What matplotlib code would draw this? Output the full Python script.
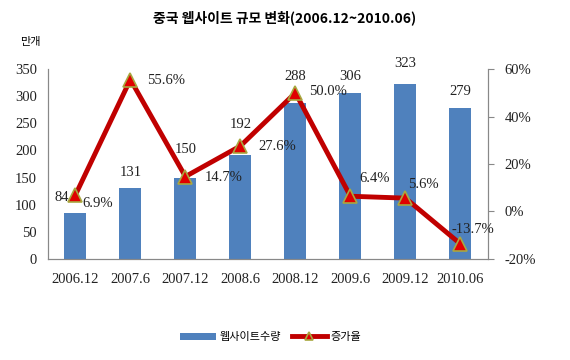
import matplotlib as mpl

mpl.use('agg')

import matplotlib.pyplot as plt

plt.rcParams['font.family'] = ['Noto Sans CJK KR', 'DejaVu Sans']

periods = ["2006.12", "2007.6", "2007.12", "2008.6",
           "2008.12", "2009.6", "2009.12", "2010.06"]
sites = [84, 131, 150, 192, 288, 306, 323, 279]
growth = [6.9, 55.6, 14.7, 27.6, 50.0, 6.4, 5.6, -13.7]

# label offsets in pixels
site_off = [(-14, 16), (0, 15), (0, 28), (0, 30), (0, 26), (0, 16), (0, 20), (0, 16)]
growth_off = [(7, -8), (17, -1), (19, -1), (18, -1), (14, 1), (9, 18), (3, 14), (-9, 14)]

serif = 'Liberation Serif'

fig = plt.figure(figsize=(5.7, 3.6), dpi=100)
ax = fig.add_axes([0.084, 0.281, 0.772, 0.527])
ax2 = ax.twinx()

x = range(len(periods))
ax.bar(x, sites, width=0.4, color='#4F81BD', label='웹사이트수량', zorder=2)
ax.set_xlim(-0.5, len(periods) - 0.5)
ax.set_ylim(0, 350)
ax.set_yticks(range(0, 351, 50))
ax.set_xticks(list(x))
ax.set_xticklabels(periods)

ax2.plot(x, growth, color='#C00000', lw=3.5, marker='^', markersize=10,
         markerfacecolor='#E00000', markeredgecolor='#A8A840', markeredgewidth=1.2,
         label='증가율', zorder=3)
ax2.set_ylim(-20, 60)
ax2.set_yticks(range(-20, 61, 20))
ax2.set_yticklabels(['%d%%' % v for v in range(-20, 61, 20)])

for i, v in enumerate(sites):
    ax.annotate(str(v), (i, v), xytext=site_off[i], textcoords='offset pixels',
                ha='center', va='center', fontsize=10.5, family=serif, color='#222222')
for i, v in enumerate(growth):
    ax2.annotate('%.1f%%' % v, (i, v), xytext=growth_off[i], textcoords='offset pixels',
                 ha='left', va='center', fontsize=10.5, family=serif, color='#222222')

for a in (ax, ax2):
    for s in a.spines.values():
        s.set_color('#888888')
    a.spines['top'].set_visible(False)
    for lab in a.get_xticklabels() + a.get_yticklabels():
        lab.set_family(serif)
        lab.set_fontsize(10.5)
        lab.set_color('#222222')

ax.tick_params(axis='y', length=0, pad=8)
ax.tick_params(axis='x', length=0, pad=10)
ax2.tick_params(axis='y', length=4, color='#888888', pad=8)

fig.text(0.5, 0.95, '중국 웹사이트 규모 변화(2006.12~2010.06)', ha='center', va='center',
         fontsize=10, fontweight='bold')
fig.text(0.053, 0.883, '만개', ha='center', va='center', fontsize=8)

h1, l1 = ax.get_legend_handles_labels()
h2, l2 = ax2.get_legend_handles_labels()
fig.legend(h1 + h2, l1 + l2, loc='center', bbox_to_anchor=(0.475, 0.063), ncol=2,
           frameon=False, fontsize=8, handlelength=3.2, handletextpad=0.3,
           columnspacing=1.0, markerscale=0.6)

fig.savefig('out.png', dpi=100)
